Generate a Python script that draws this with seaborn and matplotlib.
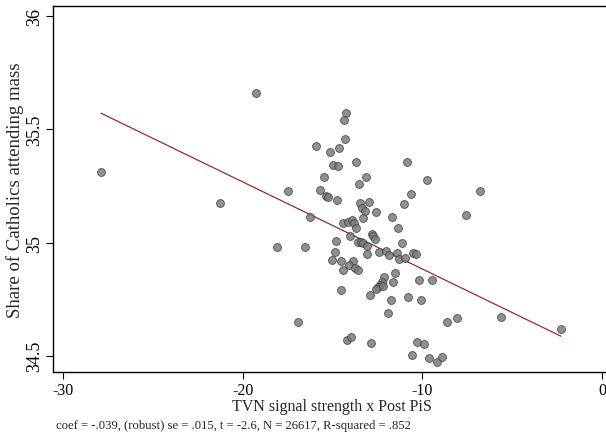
import numpy as np
import pandas as pd
import seaborn as sns
import matplotlib.pyplot as plt

# binned means
tvn_signal = [
    -27.88, -19.27, -21.25, -17.47, -15.94, -15.14, -14.62, -14.23, -14.35, -14.31,
    -14.96, -14.67, -15.49, -15.70, -15.39, -15.28, -14.73, -13.67, -13.16, -13.53,
    -13.46, -12.99, -10.87, -9.77, -10.66, -11.05, -6.80, -7.60, -8.10, -5.62,
    -2.29, -16.25, -13.36, -13.19, -12.60, -13.29, -11.69, -14.42, -14.12, -13.90,
    -13.79, -13.69, -11.34, -14.03, -14.81, -12.82, -12.75, -12.64, -13.57, -13.42,
    -13.29, -13.10, -11.15, -18.07, -16.53, -14.86, -15.05, -14.55, -13.07, -12.40,
    -12.03, -11.84, -11.43, -11.29, -10.97, -10.51, -10.37, -13.85, -14.07, -13.75,
    -13.60, -14.44, -11.52, -12.14, -11.62, -10.17, -9.45, -12.26, -12.36, -12.45,
    -12.58, -12.18, -14.51, -12.92, -11.76, -10.78, -10.06, -11.93, -16.94, -8.61,
    -14.21, -13.97, -12.86, -10.32, -9.93, -10.60, -9.62, -9.20, -8.93,
]
mass_share = [
    35.311, 35.660, 35.175, 35.227, 35.428, 35.402, 35.417, 35.573, 35.542, 35.459,
    35.344, 35.340, 35.290, 35.234, 35.207, 35.200, 35.187, 35.357, 35.291, 35.259,
    35.175, 35.181, 35.356, 35.277, 35.213, 35.171, 35.227, 35.122, 34.665, 34.671,
    34.618, 35.114, 35.152, 35.138, 35.137, 35.109, 35.114, 35.085, 35.092, 35.101,
    35.085, 35.063, 35.065, 35.030, 35.008, 35.038, 35.028, 35.016, 35.001, 35.001,
    34.998, 34.984, 34.998, 34.979, 34.979, 34.960, 34.924, 34.920, 34.950, 34.957,
    34.964, 34.945, 34.954, 34.928, 34.931, 34.954, 34.948, 34.917, 34.902, 34.888,
    34.879, 34.878, 34.867, 34.847, 34.826, 34.835, 34.835, 34.825, 34.813, 34.802,
    34.795, 34.807, 34.792, 34.767, 34.746, 34.758, 34.745, 34.689, 34.648, 34.648,
    34.570, 34.582, 34.555, 34.559, 34.552, 34.505, 34.489, 34.471, 34.496,
]

# fitted line
fit_intercept = 34.498
fit_slope = -0.0385

footnote = 'coef = -.039, (robust) se = .015, t = -2.6, N = 26617, R-squared = .852'

df = pd.DataFrame({'x': tvn_signal, 'y': mass_share})
xs = np.array([df['x'].min(), df['x'].max()])
fit = pd.DataFrame({'x': xs, 'y': fit_intercept + fit_slope * xs})

sns.set_style('white')
plt.rcParams['font.family'] = ['Liberation Serif', 'DejaVu Serif']

fig = plt.figure(figsize=(6.06, 4.39), dpi=100)
ax = fig.add_axes([53.3 / 606, 1 - 373 / 439, 557.8 / 606, (373 - 7.3) / 439])

sns.scatterplot(data=df, x='x', y='y', ax=ax, s=32, color='#7d7d7d', alpha=0.85,
                edgecolor='#3a3a3a', linewidth=0.6, zorder=3)
sns.lineplot(data=fit, x='x', y='y', ax=ax, color='#962d2d', linewidth=0.9, zorder=2)

ax.set_xlim(-30.54, 0.5)
ax.set_ylim(34.428, 36.044)
ax.set_xticks([-30, -20, -10, 0])
ax.set_xticklabels(['-30', '-20', '-10', '0'])
ax.set_yticks([34.5, 35, 35.5, 36])
ax.set_yticklabels(['34.5', '35', '35.5', '36'], rotation=90, va='center')
ax.tick_params(axis='both', direction='out', length=5, width=0.8,
               colors='black', left=True, bottom=True)
ax.tick_params(axis='x', labelsize=11.5, pad=2)
ax.tick_params(axis='y', labelsize=13, pad=2)

for side in ['left', 'bottom', 'top']:
    ax.spines[side].set_color('black')
    ax.spines[side].set_linewidth(1.0)
ax.spines['right'].set_visible(False)

ax.set_xlabel('TVN signal strength x Post PiS', fontsize=11.5, labelpad=0)
ax.set_ylabel('Share of Catholics attending mass', fontsize=13.5, labelpad=1.5)

fig.text(56 / 606, 1 - 426 / 439, footnote, fontsize=9.1, va='center', ha='left')

fig.savefig('out.png', dpi=100)
